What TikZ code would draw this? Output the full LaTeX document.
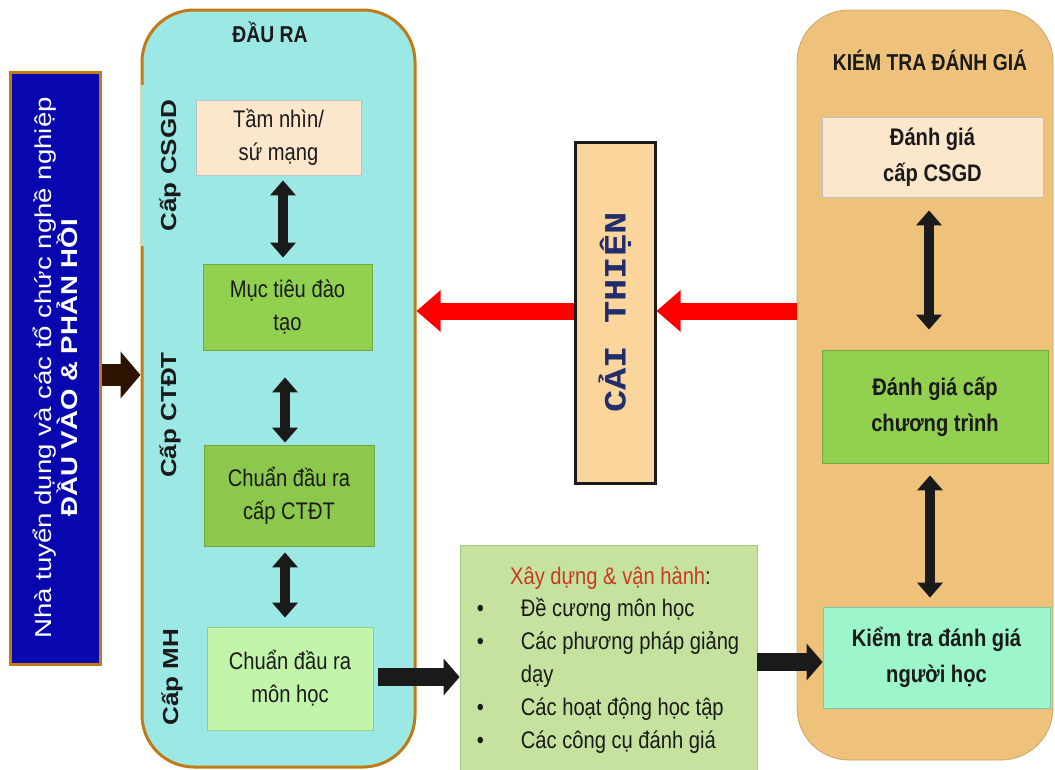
\documentclass[tikz,border=0pt]{standalone}
\usepackage{fontspec}
\setmainfont{Liberation Sans}[FakeStretch=0.84]
\newfontfamily\upfont{Liberation Sans}[FakeStretch=1.2]
\newfontfamily\capfont{Liberation Mono}[FakeStretch=1.2]
\usetikzlibrary{arrows.meta,calc}

\definecolor{ink}{HTML}{1A1A1A}
\definecolor{navybox}{HTML}{0806AE}
\definecolor{rim}{HTML}{C27A17}
\definecolor{cyanfill}{HTML}{9CE8E4}
\definecolor{tanfill}{HTML}{EEC27A}
\definecolor{tanrim}{HTML}{CDA565}
\definecolor{peach}{HTML}{FDE7CC}
\definecolor{peachrim}{HTML}{B9C3C8}
\definecolor{leaf}{HTML}{92D050}
\definecolor{leafdark}{HTML}{8CC84B}
\definecolor{leafrim}{HTML}{74A83E}
\definecolor{paleleaf}{HTML}{C2F5AA}
\definecolor{palerim}{HTML}{9CC98A}
\definecolor{mint}{HTML}{9DF5CC}
\definecolor{mintrim}{HTML}{7FC9A8}
\definecolor{listfill}{HTML}{C5E39F}
\definecolor{listrim}{HTML}{A8C888}
\definecolor{caifill}{HTML}{FBD59C}
\definecolor{cainavy}{HTML}{1F2E6B}
\definecolor{xayred}{HTML}{C93A22}
\definecolor{brownar}{HTML}{2E1300}

\begin{document}
\begin{tikzpicture}[x=1pt,y=1pt,
  panel/.style={rounded corners=52pt, line width=#1},
  box/.style={draw=#1, line width=0.8pt, inner sep=0pt, align=center, text=ink,
    font=\fontsize{24}{33}\selectfont},
  boldbox/.style={draw=#1, line width=0.8pt, inner sep=0pt, align=center, text=ink,
    font=\bfseries\fontsize{24}{36}\selectfont},
  sidelabel/.style={rotate=90, text=ink, inner sep=0pt, font=\upfont\bfseries\fontsize{21.7}{26}\selectfont},
  dbl/.style={draw=ink, line width=10pt, arrows={Triangle[width=25pt,length=15pt]-Triangle[width=25pt,length=15pt]}},
  brownarrow/.style={draw=brownar, line width=22pt, arrows={-Triangle[width=46pt,length=20pt]}},
  redarrow/.style={draw=red, line width=17pt, arrows={-Triangle[width=40pt,length=24pt]}},
  blackarrow/.style={draw=ink, line width=18pt, arrows={-Triangle[width=36pt,length=16pt]}}
]
\useasboundingbox (0,0) rectangle (1055,-769);
\clip (0,0) rectangle (1055,-769);
\fill[white] (0,0) rectangle (1055,-769);

% ---- outer panels ----
\node[panel=3pt, draw=rim, fill=cyanfill, minimum width=273pt, minimum height=757pt]
  (outpanel) at (278.5,-388.5) {};
\node[panel=0.8pt, draw=tanrim, fill=tanfill, minimum width=256pt, minimum height=750pt]
  (evalpanel) at (925,-385) {};

\node[text=ink, font=\bfseries\fontsize{23}{26}\selectfont] (outhead) at (270,-32) {ĐẦU RA};
\node[text=ink, font=\bfseries\fontsize{23}{26}\selectfont] (evalhead) at (930,-60) {KIÉM TRA ĐÁNH GIÁ};

% ---- level labels on the left panel ----
\node[sidelabel, fill=cyanfill, minimum width=161pt, minimum height=59pt] (lvlcsgd) at (170,-165.5) {Cấp CSGD};
\node[sidelabel] (lvlctdt) at (170,-415) {Cấp CTĐT};
\node[sidelabel] (lvlmh) at (172,-677) {Cấp MH};

% ---- input box ----
\node[draw=rim, line width=3pt, fill=navybox, minimum width=90pt, minimum height=592pt] (inbox) at (55,-368) {};
\node[rotate=90, text=white, align=center, inner sep=0pt, font=\upfont\fontsize{23}{26}\selectfont]
  (intext) at (inbox.center) {Nhà tuyển dụng và các tổ chức nghề nghiệp\\\textbf{ĐẦU VÀO \& PHẢN HỒI}};

% ---- outcome boxes ----
\node[box=peachrim, fill=peach, minimum width=165pt, minimum height=75pt] (vision) at (278.5,-137.5) {Tầm nhìn/\\sứ mạng};
\node[box=leafrim, fill=leaf, minimum width=169pt, minimum height=86pt] (goals) at (287.5,-307) {Mục tiêu đào\\tạo};
\node[box=leafrim, fill=leafdark, minimum width=170pt, minimum height=101pt] (ploctdt) at (289,-495.5) {Chuẩn đầu ra\\cấp CTĐT};
\node[box=palerim, fill=paleleaf, minimum width=166pt, minimum height=103pt] (clomh) at (290,-678.5) {Chuẩn đầu ra\\môn học};

% ---- improvement box ----
\node[draw=ink, line width=3pt, fill=caifill, minimum width=80pt, minimum height=341pt] (improve) at (615,-312.5) {};
\node[rotate=90, text=cainavy, inner sep=0pt, font=\capfont\bfseries\fontsize{31}{34}\selectfont]
  (improvetext) at (improve.center) {CẢI THIỆN};

% ---- evaluation boxes ----
\node[boldbox=peachrim, fill=peach, minimum width=221pt, minimum height=80pt] (evalcsgd) at (932.5,-157) {Đánh giá\\cấp CSGD};
\node[boldbox=leafrim, fill=leaf, minimum width=226pt, minimum height=113pt] (evalct) at (935,-406.5) {Đánh giá cấp\\chương trình};
\node[boldbox=mintrim, fill=mint, minimum width=227pt, minimum height=101pt] (evalsv) at (936.5,-657.5) {Kiểm tra đánh giá\\người học};

% ---- teaching box ----
\node[draw=listrim, line width=0.8pt, fill=listfill, minimum width=297pt, minimum height=230pt] (teach) at (608.5,-660) {};
\node[anchor=base, inner sep=0pt, text=ink, font=\fontsize{24}{33}\selectfont]
  (teachhead) at ($(teach.north)+(2,-40)$) {\textcolor{xayred}{Xây dựng \& vận hành}:};
\node[anchor=base west, inner sep=0pt, text=ink, font=\fontsize{24}{33}\selectfont]
  (teachlist) at ($(teach.north west)+(17,-72)$) {%
  \begin{tabular}[t]{@{}l@{\hspace{37pt}}l@{}}
  • & Đề cương môn học\\
  • & Các phương pháp giảng\\
    & dạy\\
  • & Các hoạt động học tập\\
  • & Các công cụ đánh giá
  \end{tabular}};

% ---- connectors ----
\draw[dbl, shorten <=5pt, shorten >=6pt] (vision.south -| 283,0) -- (goals.north -| 283,0);
\draw[dbl, shorten <=27pt, shorten >=2pt] (goals.south -| 285,0) -- (ploctdt.north -| 285,0);
\draw[dbl, shorten <=6pt, shorten >=9pt] (ploctdt.south -| 285,0) -- (clomh.north -| 285,0);

\draw[dbl, shorten <=13pt, shorten >=20pt] (evalcsgd.south -| 929,0) -- (evalct.north -| 929,0);
\draw[dbl, shorten <=12pt, shorten >=9pt] (evalct.south -| 930,0) -- (evalsv.north -| 930,0);

\draw[brownarrow] (inbox.east |- 0,-375) -- (outpanel.west |- 0,-375);
\draw[redarrow] (improve.west |- 0,-311) -- (outpanel.east |- 0,-311);
\draw[redarrow] (evalpanel.west |- 0,-311) -- (improve.east |- 0,-311);
\draw[blackarrow, shorten <=5pt] (clomh.east |- 0,-677) -- (teach.west |- 0,-677);
\draw[blackarrow] (teach.east |- 0,-662) -- (evalsv.west |- 0,-662);
\end{tikzpicture}
\end{document}
